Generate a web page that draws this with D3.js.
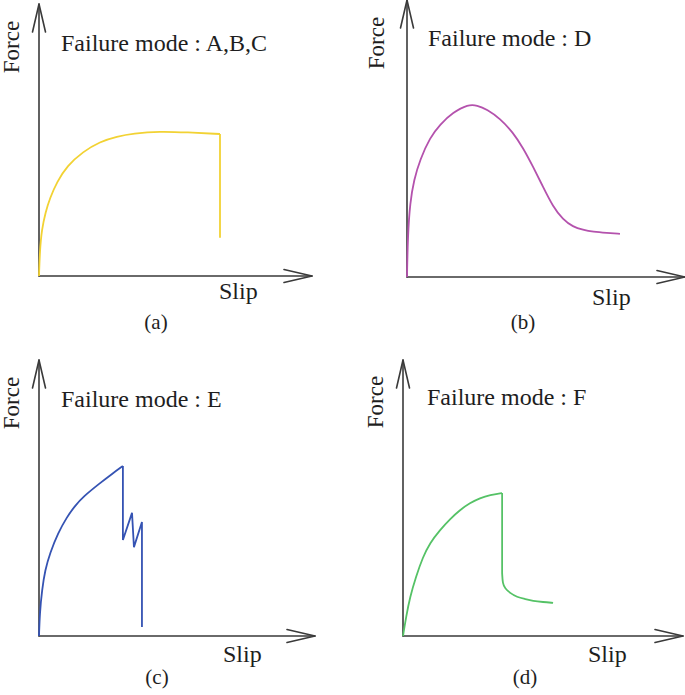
<!DOCTYPE html>
<html>
<head>
<meta charset="utf-8">
<script src="https://cdn.jsdelivr.net/npm/d3@7"></script>
<style>
  html, body { margin: 0; padding: 0; background: #ffffff; }
  svg { display: block; }
  text { font-family: "Liberation Serif", "Times New Roman", serif; fill: #1e1e1e; }
</style>
</head>
<body>
<div id="chart"></div>
<script>
// ---------- DATA (slip / force in % of axis length) ----------
const panelIds = ["a", "b", "c", "d"];
const panelTitles = ["Failure mode : A,B,C", "Failure mode : D", "Failure mode : E", "Failure mode : F"];
const panelLabels = ["(a)", "(b)", "(c)", "(d)"];
const xLabel = "Slip";
const yLabel = "Force";
const lineColors = ["#f2d233", "#b452ad", "#3553b3", "#55c266"];

// (a) modes A,B,C : smooth rise, plateau, then sudden drop
const aSmoothSlip  = [0, 0.3, 1.0, 2.4, 4.0, 6.6, 10.3, 16.1, 22.3, 28.6, 34.4, 44.3, 54.2, 66.3];
const aSmoothForce = [0, 9.0, 17.0, 23.5, 28.6, 34.6, 40.5, 45.7, 49.4, 51.3, 52.4, 53.2, 52.8, 52.2];
const aDropSlip    = [66.3, 66.3];
const aDropForce   = [52.2, 14.1];

// (b) mode D : peak then softening to residual
const bSmoothSlip  = [0, 0.3, 1.1, 2.5, 4.7, 8.3, 11.9, 16.5, 22.0, 25.2, 28.8, 33.5, 38.1, 41.7, 45.3, 48.9, 52.5, 56.1, 59.7, 63.3, 66.9, 71.9, 76.6];
const bSmoothForce = [0, 15.0, 26.8, 35.1, 42.4, 50.4, 55.1, 59.4, 62.3, 62.0, 60.5, 57.2, 52.2, 46.7, 39.9, 32.6, 25.4, 20.7, 18.1, 17.0, 16.3, 15.9, 15.6];

// (c) mode E : rise, then saw-tooth drops
const cSmoothSlip  = [0, 0.3, 1.1, 2.2, 4.0, 6.9, 10.1, 13.0, 15.9, 22.1, 26.4, 30.4];
const cSmoothForce = [0, 8.5, 16.7, 23.9, 30.1, 37.3, 43.1, 47.1, 50.4, 55.4, 58.7, 61.6];
const cDropSlip    = [30.4, 30.4, 33.7, 34.4, 37.3, 37.3];
const cDropForce   = [61.6, 34.8, 44.6, 32.2, 41.3, 3.3];

// (d) mode F : rise, sudden drop, residual tail
const dSmoothSlip  = [0, 1.1, 2.5, 4.6, 7.1, 9.6, 13.2, 16.8, 20.4, 23.9, 27.5, 31.1, 35.4];
const dSmoothForce = [0, 6.9, 14.1, 21.4, 28.6, 33.7, 38.4, 42.4, 45.7, 48.2, 50.0, 51.1, 51.8];
const dDropSlip    = [35.4, 35.4];
const dDropForce   = [51.8, 22.8];
const dTailSlip    = [35.4, 35.6, 36.4, 38.2, 40.7, 43.6, 46.4, 50.0, 53.6];
const dTailForce   = [22.8, 19.0, 17.3, 15.6, 14.1, 13.4, 12.7, 12.3, 12.0];

// ---------- LAYOUT ----------
const W = 685, H = 695;
const layout = [
  { ox: 39,  oy: 276, xEnd: 312, yTop: 4,   title: [61, 51],   force: [19, 47],   slip: [219, 299], lab: [156, 329] },
  { ox: 407, oy: 277, xEnd: 685, yTop: 0,   title: [428, 46],  force: [384, 43],  slip: [592, 305], lab: [523, 329] },
  { ox: 39,  oy: 636, xEnd: 315, yTop: 360, title: [61, 407],  force: [19, 403],  slip: [223, 662], lab: [157, 684] },
  { ox: 403, oy: 636, xEnd: 683, yTop: 360, title: [427, 405], force: [383, 402], slip: [588, 662], lab: [525, 684] }
];

const zip = (xs, ys) => xs.map((x, i) => ({ slip: x, force: ys[i] }));
const seriesSegments = [
  [ { pts: zip(aSmoothSlip, aSmoothForce), smooth: true }, { pts: zip(aDropSlip, aDropForce), smooth: false } ],
  [ { pts: zip(bSmoothSlip, bSmoothForce), smooth: true } ],
  [ { pts: zip(cSmoothSlip, cSmoothForce), smooth: true }, { pts: zip(cDropSlip, cDropForce), smooth: false } ],
  [ { pts: zip(dSmoothSlip, dSmoothForce), smooth: true }, { pts: zip(dDropSlip, dDropForce), smooth: false },
    { pts: zip(dTailSlip, dTailForce), smooth: true } ]
];

const svg = d3.select("#chart").append("svg")
  .attr("width", W).attr("height", H)
  .attr("viewBox", `0 0 ${W} ${H}`);

svg.append("rect").attr("width", W).attr("height", H).attr("fill", "#ffffff");

const axisColor = "#3a3a3a";
const arrowLen = 28, arrowHalf = 6.5;

panelIds.forEach((id, i) => {
  const L = layout[i];
  const g = svg.append("g").attr("class", "panel-" + id);
  const x = d3.scaleLinear().domain([0, 100]).range([L.ox, L.xEnd]);
  const y = d3.scaleLinear().domain([0, 100]).range([L.oy, L.yTop]);

  // axes
  const ax = g.append("g").attr("fill", "none").attr("stroke", axisColor)
    .attr("stroke-width", 1.6).attr("stroke-linecap", "round").attr("stroke-linejoin", "round");
  ax.append("line").attr("x1", x(0)).attr("y1", y(0)).attr("x2", x(0)).attr("y2", y(100));
  ax.append("line").attr("x1", x(0)).attr("y1", y(0)).attr("x2", x(100)).attr("y2", y(0));
  const arrowLine = d3.line();
  ax.append("path").attr("d", arrowLine([
    [x(0) - arrowHalf, y(100) + arrowLen], [x(0), y(100)], [x(0) + arrowHalf, y(100) + arrowLen]
  ]));
  ax.append("path").attr("d", arrowLine([
    [x(100) - arrowLen, y(0) - arrowHalf], [x(100), y(0)], [x(100) - arrowLen, y(0) + arrowHalf]
  ]));

  // curve
  const smoothLine = d3.line().x(d => x(d.slip)).y(d => y(d.force)).curve(d3.curveBasis);
  const straightLine = d3.line().x(d => x(d.slip)).y(d => y(d.force)).curve(d3.curveLinear);
  seriesSegments[i].forEach(seg => {
    g.append("path")
      .attr("d", (seg.smooth ? smoothLine : straightLine)(seg.pts))
      .attr("fill", "none")
      .attr("stroke", lineColors[i])
      .attr("stroke-width", 1.8)
      .attr("stroke-linejoin", "miter")
      .attr("stroke-linecap", "butt");
  });

  // texts
  g.append("text").attr("x", L.title[0]).attr("y", L.title[1])
    .attr("font-size", 24).text(panelTitles[i]);
  g.append("text")
    .attr("transform", `translate(${L.force[0]},${L.force[1]}) rotate(-90)`)
    .attr("text-anchor", "middle").attr("font-size", 23).text(yLabel);
  g.append("text").attr("x", L.slip[0]).attr("y", L.slip[1])
    .attr("font-size", 24).text(xLabel);
  g.append("text").attr("x", L.lab[0]).attr("y", L.lab[1])
    .attr("text-anchor", "middle").attr("font-size", 21).text(panelLabels[i]);
});
</script>
</body>
</html>
